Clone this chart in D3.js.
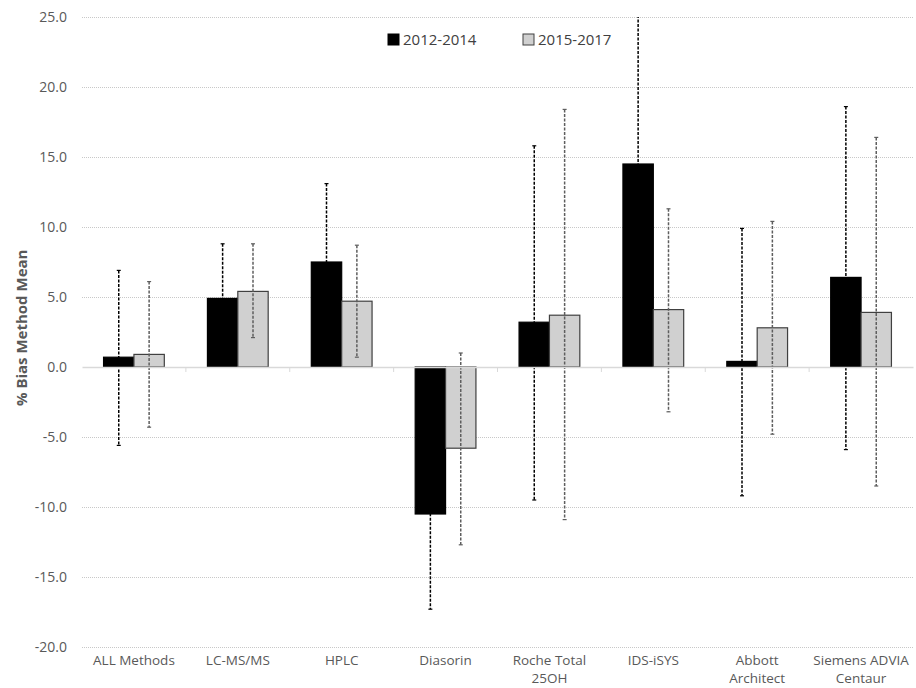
<!DOCTYPE html>
<html>
<head>
<meta charset="utf-8">
<script src="https://cdn.jsdelivr.net/npm/d3@7"></script>
<style>
  body { margin: 0; background: #fff; }
  svg { font-family: "Open Sans", "Noto Sans", sans-serif; }
</style>
</head>
<body>
<script>
// data
var methods = ["ALL Methods", "LC-MS/MS", "HPLC", "Diasorin", "Roche Total|25OH", "IDS-iSYS", "Abbott|Architect", "Siemens ADVIA|Centaur"];
var periods = ["2012-2014", "2015-2017"];
var mean1 = [0.7, 4.9, 7.5, -10.5, 3.2, 14.5, 0.4, 6.4];
var hi1   = [6.9, 8.8, 13.1, -3.7, 15.8, 29.0, 9.9, 18.6];
var lo1   = [-5.6, 1.0, 1.9, -17.3, -9.5, 0.0, -9.2, -5.9];
var mean2 = [0.9, 5.4, 4.7, -5.8, 3.7, 4.1, 2.8, 3.9];
var hi2   = [6.1, 8.8, 8.7, 1.0, 18.4, 11.3, 10.4, 16.4];
var lo2   = [-4.3, 2.1, 0.7, -12.7, -10.9, -3.2, -4.8, -8.5];
var yTicks = [25, 20, 15, 10, 5, 0, -5, -10, -15, -20];

var width = 916, height = 688;
var margin = {top: 17, right: 3, bottom: 41, left: 82};

const svg = d3.select("body")
    .append("svg")
    .attr("width", width)
    .attr("height", height);

var xscale = d3.scaleBand()
    .domain(methods)
    .range([margin.left, width - margin.right]);

var inner = d3.scaleBand()
    .domain(periods)
    .range([0, xscale.bandwidth()])
    .paddingInner(0)
    .paddingOuter(0.71);

var yscale = d3.scaleLinear()
    .domain([-20, 25])
    .range([height - margin.bottom, margin.top]);

var color = d3.scaleOrdinal().domain(periods).range(["#000000", "#d0d0d0"]);
var stroke = d3.scaleOrdinal().domain(periods).range(["#000000", "#404040"]);
var errColor = d3.scaleOrdinal().domain(periods).range(["#000000", "#5e5e5e"]);

// plain hyphen for negatives, like the original
var fmt = d3.formatLocale({decimal: ".", thousands: ",", grouping: [3], currency: ["", ""], minus: "-"}).format(".1f");

svg.append("clipPath").attr("id", "clip")
    .append("rect")
    .attr("x", margin.left).attr("y", margin.top)
    .attr("width", width - margin.left - margin.right)
    .attr("height", height - margin.top - margin.bottom);

// gridlines
svg.append("g")
    .selectAll("line")
    .data(yTicks.filter(d => d !== 0))
    .join("line")
    .attr("x1", margin.left)
    .attr("x2", width - margin.right)
    .attr("y1", d => yscale(d) + 0.5)
    .attr("y2", d => yscale(d) + 0.5)
    .attr("stroke", "#c8c8c8")
    .attr("stroke-dasharray", "1,1");

// y labels
svg.append("g")
    .selectAll("text")
    .data(yTicks)
    .join("text")
    .attr("x", 67)
    .attr("y", d => yscale(d) + 5)
    .attr("text-anchor", "end")
    .attr("fill", "#595959")
    .style("font-size", "14px")
    .text(d => fmt(d));

svg.append("text")
    .attr("transform", `translate(27,${yscale(2.8)}) rotate(-90)`)
    .attr("text-anchor", "middle")
    .attr("fill", "#595959")
    .style("font-size", "15px")
    .style("font-weight", "bold")
    .text("% Bias Method Mean");

var rows = methods.map((m, i) => [
    {m: m, p: periods[0], v: mean1[i], hi: hi1[i], lo: lo1[i]},
    {m: m, p: periods[1], v: mean2[i], hi: hi2[i], lo: lo2[i]}
]).flat();

// bars
svg.append("g")
    .selectAll("rect")
    .data(rows)
    .join("rect")
    .attr("x", d => xscale(d.m) + inner(d.p))
    .attr("width", inner.bandwidth())
    .attr("y", d => yscale(Math.max(0, d.v)))
    .attr("height", d => Math.abs(yscale(d.v) - yscale(0)))
    .attr("fill", d => color(d.p))
    .attr("stroke", d => stroke(d.p))
    .attr("stroke-width", 1.2);

// error bars
var eg = svg.append("g").attr("clip-path", "url(#clip)");
rows.forEach(d => {
    var cx = xscale(d.m) + inner(d.p) + inner.bandwidth() / 2;
    eg.append("line")
        .attr("x1", cx).attr("x2", cx)
        .attr("y1", yscale(d.hi)).attr("y2", yscale(d.lo))
        .attr("stroke", errColor(d.p))
        .attr("stroke-width", 1.5)
        .attr("stroke-dasharray", "3,1.5");
    [d.hi, d.lo].forEach(e => {
        eg.append("line")
            .attr("x1", cx - 2).attr("x2", cx + 2)
            .attr("y1", yscale(e)).attr("y2", yscale(e))
            .attr("stroke", errColor(d.p))
            .attr("stroke-width", 1.2);
    });
});

// zero axis with band ticks
svg.append("g")
    .attr("transform", `translate(0,${yscale(0)})`)
    .call(d3.axisBottom(xscale).tickValues([]).tickSizeOuter(0))
    .call(g => g.select(".domain").attr("stroke", "#d9d9d9").attr("stroke-width", 1.5));
svg.append("g")
    .selectAll("line")
    .data(methods.slice(1))
    .join("line")
    .attr("x1", d => xscale(d)).attr("x2", d => xscale(d))
    .attr("y1", yscale(0)).attr("y2", yscale(0) + 5)
    .attr("stroke", "#d9d9d9");

// category labels
var lab = svg.append("g")
    .selectAll("text")
    .data(methods)
    .join("text")
    .attr("x", d => xscale(d) + xscale.bandwidth() / 2)
    .attr("y", 665)
    .attr("text-anchor", "middle")
    .attr("fill", "#595959")
    .style("font-size", "13.5px");
lab.each(function(d) {
    var parts = d.split("|");
    var t = d3.select(this);
    parts.forEach((p, i) => {
        t.append("tspan")
            .attr("x", xscale(d) + xscale.bandwidth() / 2)
            .attr("dy", i === 0 ? 0 : 18)
            .text(p);
    });
});

// legend
var legX = [388, 523];
periods.forEach((p, i) => {
    svg.append("rect")
        .attr("x", legX[i]).attr("y", 34)
        .attr("width", 11).attr("height", 11)
        .attr("fill", color(p))
        .attr("stroke", stroke(p));
    svg.append("text")
        .attr("x", legX[i] + 15).attr("y", 45)
        .attr("fill", "#404040")
        .style("font-size", "15px")
        .text(p);
});
</script>
</body>
</html>
